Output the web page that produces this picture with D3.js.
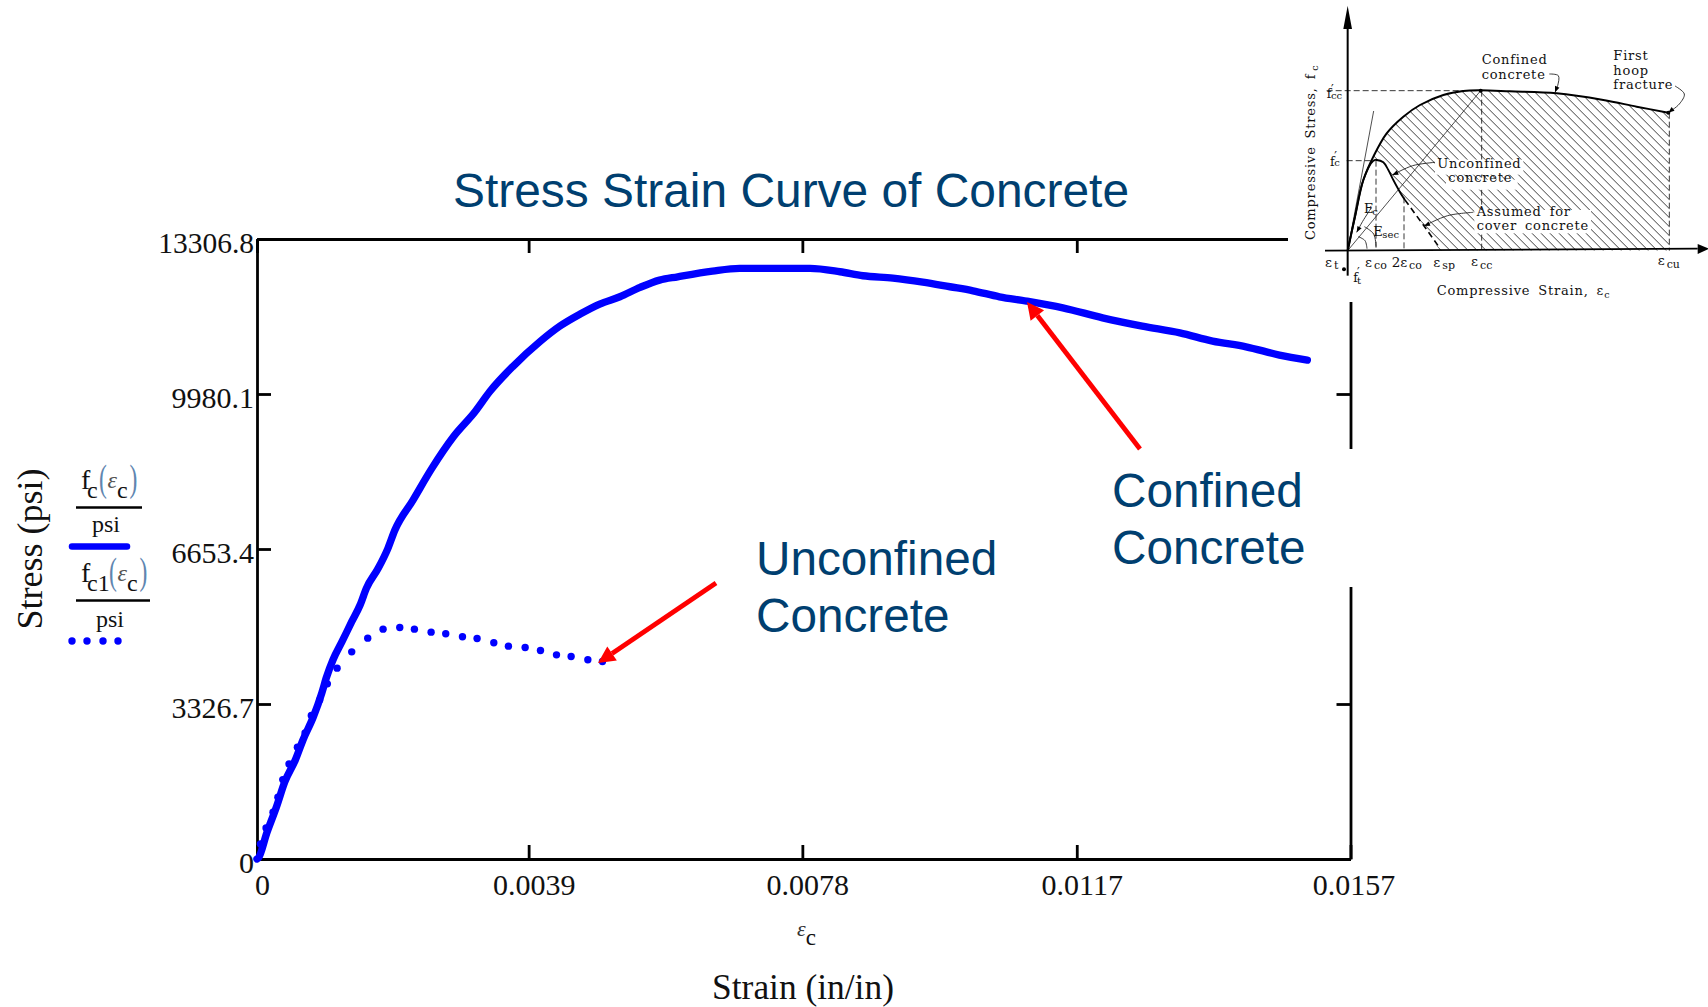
<!DOCTYPE html>
<html><head><meta charset="utf-8">
<script src="https://cdn.jsdelivr.net/npm/d3@7"></script>
<style>html,body{margin:0;padding:0;background:#fff}svg{display:block}text{white-space:pre}</style>
</head><body><svg id="c" width="1708" height="1007"></svg>
<script>
// ---- main chart data
const chartTitle = "Stress Strain Curve of Concrete";
const xTickValues = [0, 0.0039, 0.00783, 0.01177, 0.0157];
const xTickLabels = ["0", "0.0039", "0.0078", "0.0117", "0.0157"];
const yTickValues = [0, 3326.7, 6653.4, 9980.1, 13306.8];
const yTickLabels = ["0", "3326.7", "6653.4", "9980.1", "13306.8"];
const confinedStrain = [0,.00002,.00014,.00028,.0004,.00055,.00066,.00081,.00093,.001,.00109,.00122,.00136,.00148,.00157,.00174,.00188,.00198,.00224,.00251,.00282,.00313,.00334,.00368,.00406,.00435,.00464,.00492,.00521,.0055,.00578,.00604,.00654,.00693,.00794,.00837,.0087,.00913,.00956,.00995,.01028,.01066,.01105,.01157,.01214,.01271,.01325,.01372,.0142,.01468,.01508];
const confinedStress = [0,21,558,1122,1659,2125,2554,3054,3562,3912,4271,4663,5093,5451,5809,6238,6668,7060,7704,8384,9063,9599,10028,10580,11101,11438,11696,11910,12067,12269,12425,12496,12618,12676,12676,12604,12518,12468,12382,12282,12196,12067,11975,11831,11616,11438,11294,11116,10994,10816,10709];
const unconfinedStrain = [.00005,.00013,.00023,.0003,.00037,.00046,.00058,.00069,.00078,.0009,.00101,.00115,.00136,.00159,.00181,.00205,.00226,.0025,.00271,.00295,.00316,.0034,.00361,.00385,.00407,.0043,.00451,.00475,.00496];
const unconfinedStress = [322,666,1002,1325,1704,2041,2399,2706,3079,3415,3759,4096,4446,4740,4933,4969,4933,4869,4833,4769,4733,4640,4568,4539,4475,4382,4346,4275,4239];

// ---- inset data (the small textbook sketch), in its own units
const insetConfined = [[0,0],[22,102],[47,212],[77,282],[117,352],[167,402],[217,437],[287,467],[347,479],[397,481],[487,478],[627,472],[767,452],[867,432],[962,414]];
const insetUnconfined = [[0,0],[22,102],[47,212],[77,270],[87,272],[107,265],[122,242],[137,212],[162,167],[172,152]];
const insetCover = [[172,152],[227,77],[277,7]];
const insetHatchEdge = [[77,282],[87,272],[107,265],[122,242],[137,212],[162,167],[172,152],[227,77],[277,0],[965,0],[965,414]];
const insetDashes = [[[-63,480],[397,480]],[[-3,270],[82,270]],[[85,270],[85,0]],[[169,160],[169,0]],[[402,480],[402,0]],[[965,414],[965,0]]];
const insetThin = [[[0,0],[78,419]],[[0,0],[399,480]]];
const insetDots = [[399,480],[962,414],[-11,-56]];
const insetLabels = [
 ["Confined",402,559],["concrete",402,515],["First",797,572],["hoop",797,527],["fracture",797,484],
 ["Unconfined",269,249],["concrete",302,205],["Assumed for",387,105],["cover concrete",387,62]];
const insetTicks = [["ε",-68,-48,"t"],["ε",52,-48,"co"],["2ε",132,-48,"co"],["ε",257,-48,"sp"],["ε",370,-46,"cc"],["ε",930,-43,"cu"]];

const svg = d3.select("#c");
const navy = "#003f70", blue = "#0000ff", red = "#ff0000", ink = "#111";
const serif = "'Liberation Serif','Times New Roman',serif", sans = "'Liberation Sans',Arial,sans-serif";

const x = d3.scaleLinear().domain([0, 0.0157]).range([257, 1350.5]);
const y = d3.scaleLinear().domain([0, 13306.8]).range([859, 239]);

function styleAxis(g){
  g.selectAll("path.domain").attr("stroke","#000").attr("stroke-width",2.8);
  g.selectAll(".tick line").attr("stroke","#000").attr("stroke-width",2.8);
  g.selectAll(".tick text").attr("fill",ink).attr("font-family",serif).attr("font-size",30);
}
const xAxis = svg.append("g").attr("transform",`translate(0,${y(0)})`)
  .call(d3.axisBottom(x).tickValues(xTickValues).tickSize(-14).tickSizeOuter(0).tickPadding(0)
    .tickFormat((d,i)=>xTickLabels[i])).call(styleAxis);
xAxis.selectAll(".tick text").attr("dx",(d,i)=>i===4?3:5).attr("y",0).attr("dy",36);
const yAxis = svg.append("g").attr("transform",`translate(${x(0)},0)`)
  .call(d3.axisLeft(y).tickValues(yTickValues).tickSize(-14).tickSizeOuter(0).tickPadding(0)
    .tickFormat((d,i)=>yTickLabels[i])).call(styleAxis);
yAxis.selectAll(".tick text").attr("x",-3).attr("dy",13).attr("font-size",(d,i)=>i===4?29.5:30);
svg.append("g").attr("transform",`translate(0,${y(13306.8)})`)
  .call(d3.axisTop(x).tickValues(xTickValues).tickSize(-14).tickSizeOuter(0).tickFormat("")).call(styleAxis);
svg.append("g").attr("transform",`translate(${x(0.0157)},0)`)
  .call(d3.axisRight(y).tickValues(yTickValues).tickSize(-14).tickSizeOuter(0).tickFormat("")).call(styleAxis);

// white boxes of the overlays that cut the frame
svg.append("rect").attr("x",1288).attr("y",0).attr("width",420).attr("height",302).attr("fill","#fff");
svg.append("rect").attr("x",1300).attr("y",449).attr("width",100).attr("height",138).attr("fill","#fff");

// series
const line = d3.line().x(d=>x(d[0])).y(d=>y(d[1])).curve(d3.curveMonotoneX);
svg.append("path").datum(confinedStrain.map((s,i)=>[s,confinedStress[i]]))
  .attr("d",line).attr("fill","none").attr("stroke",blue).attr("stroke-width",7.4)
  .attr("stroke-linecap","round").attr("stroke-linejoin","round");
svg.append("g").selectAll("circle").data(unconfinedStrain.map((s,i)=>[s,unconfinedStress[i]]))
  .join("circle").attr("cx",d=>x(d[0])).attr("cy",d=>y(d[1])).attr("r",3.7).attr("fill",blue);

// titles
svg.append("text").attr("x",453).attr("y",207).attr("fill",navy).attr("font-family",sans).attr("font-size",47.9).text(chartTitle);
function lines(arr,xp,size){arr.forEach(([t,yp])=>svg.append("text").attr("x",xp).attr("y",yp).attr("fill",navy).attr("font-family",sans).attr("font-size",size).text(t));}
lines([["Confined",507],["Concrete",564]],1112,47.7);
lines([["Unconfined",575],["Concrete",632]],756,47.7);

// arrows
function redArrow(x1,y1,x2,y2){
  const a=Math.atan2(y2-y1,x2-x1),L=17,W=8.5;
  const bx=x2-L*Math.cos(a),by=y2-L*Math.sin(a);
  svg.append("line").attr("x1",x1).attr("y1",y1).attr("x2",bx).attr("y2",by).attr("stroke",red).attr("stroke-width",4.8);
  svg.append("path").attr("fill",red).attr("d",d3.line()([[x2,y2],[bx+W*Math.sin(a),by-W*Math.cos(a)],[bx-W*Math.sin(a),by+W*Math.cos(a)]])+"Z");
}
redArrow(1140,449,1027,302);
redArrow(716,583,598,663);

// axis captions
function serifText(t,xp,yp,size,anchor,fill){return svg.append("text").attr("x",xp).attr("y",yp).attr("font-family",serif).attr("font-size",size).attr("text-anchor",anchor||"start").attr("fill",fill||ink).text(t);}
serifText("Strain (in/in)",803,999,35.4,"middle");
svg.append("text").attr("transform","translate(42,549) rotate(-90)").attr("text-anchor","middle").attr("font-family",serif).attr("font-size",36).attr("fill",ink).text("Stress (psi)");
const epsLabel = svg.append("text").attr("x",797).attr("y",936).attr("font-family",serif).attr("fill",ink);
epsLabel.append("tspan").attr("font-size",22).attr("font-style","italic").attr("fill","#333").text("ε");
epsLabel.append("tspan").attr("font-size",23).attr("dy",9).text("c");

// legend
function paren(s,px,py){
  svg.append("text").attr("transform",`translate(${px},${py}) scale(.62,1)`).attr("font-family",serif).attr("font-size",38).attr("fill","#5f86b0").text(s);
}
function legendLabel(sub,yb,lineEnd,psiX,psiY){
  const w = sub.length>1?10:0;
  const base = svg.append("text").attr("x",81).attr("y",yb).attr("font-family",serif).attr("fill",ink);
  base.append("tspan").attr("font-size",28).text("f");
  base.append("tspan").attr("font-size",24).attr("dx",-3.3).attr("dy",9).text(sub);
  paren("(",99+w,yb+2);
  const arg = svg.append("text").attr("x",107.5+w).attr("y",yb-1).attr("font-family",serif).attr("fill",ink);
  arg.append("tspan").attr("font-size",24).attr("font-style","italic").attr("fill","#555").text("ε");
  arg.append("tspan").attr("font-size",24).attr("dy",10).text("c");
  paren(")",129.5+w,yb+2);
  svg.append("line").attr("x1",76).attr("x2",lineEnd).attr("y1",yb+18.5).attr("y2",yb+18.5).attr("stroke","#000").attr("stroke-width",2.4);
  serifText("psi",psiX,psiY,24,"middle");
}
legendLabel("c",489,142,106,532);
legendLabel("c1",582,150,110,627);
svg.append("line").attr("x1",72).attr("x2",127).attr("y1",546.5).attr("y2",546.5).attr("stroke",blue).attr("stroke-width",6.5).attr("stroke-linecap","round");
svg.append("g").selectAll("circle").data([72,87,103,118]).join("circle").attr("cx",d=>d).attr("cy",641).attr("r",3.7).attr("fill",blue);

// ---- inset sketch
const ix = d3.scaleLinear().domain([0,1000]).range([1270+233/3,1270+1233/3]);
const iy = d3.scaleLinear().domain([0,600]).range([752/3,152/3]);
const inset = svg.append("g");
const lineI = d3.line().x(p=>ix(p[0])).y(p=>iy(p[1]));
const curveI = d3.line().x(p=>ix(p[0])).y(p=>iy(p[1])).curve(d3.curveCatmullRom);
svg.append("defs").append("clipPath").attr("id","hatchClip").append("path")
  .attr("d",lineI(insetConfined.slice(3).concat(insetHatchEdge.slice().reverse()))+"Z");
const hatch = inset.append("g").attr("clip-path","url(#hatchClip)");
d3.range(-400,1500,27).forEach(s=>{
  hatch.append("line").attr("x1",ix(s)).attr("y1",iy(600)).attr("x2",ix(s+600)).attr("y2",iy(0)).attr("stroke","#2a2a2a").attr("stroke-width",.9);
});
insetDashes.forEach(d=>inset.append("path").attr("d",lineI(d)).attr("stroke","#222").attr("stroke-width",.9).attr("stroke-dasharray","6 3").attr("fill","none"));
insetThin.forEach(d=>inset.append("path").attr("d",lineI(d)).attr("stroke","#222").attr("stroke-width",.8).attr("fill","none"));
// label clearings
[[262,228,265,45],[295,183,215,30],[380,52,350,70]].forEach(b=>inset.append("rect").attr("x",ix(b[0])).attr("y",iy(b[1]+b[3])).attr("width",b[2]/3).attr("height",b[3]/3).attr("fill","#fff"));
inset.append("path").attr("d",curveI(insetConfined)).attr("fill","none").attr("stroke","#000").attr("stroke-width",2);
inset.append("path").attr("d",curveI(insetUnconfined)).attr("fill","none").attr("stroke","#000").attr("stroke-width",1.8);
inset.append("path").attr("d",lineI(insetCover)).attr("fill","none").attr("stroke","#000").attr("stroke-width",1.6).attr("stroke-dasharray","6 4");
// axes of the sketch
inset.append("line").attr("x1",ix(0)).attr("x2",ix(0)).attr("y1",iy(-75)).attr("y2",iy(670)).attr("stroke","#000").attr("stroke-width",2);
inset.append("path").attr("fill","#000").attr("d",lineI([[0,735],[-13,665],[13,665]])+"Z");
inset.append("line").attr("x1",ix(-68)).attr("x2",ix(1050)).attr("y1",iy(0)).attr("y2",iy(6)).attr("stroke","#000").attr("stroke-width",1.8);
inset.append("path").attr("fill","#000").attr("d",lineI([[1085,6],[1050,20],[1050,-10]])+"Z");
inset.selectAll("circle").data(insetDots).join("circle").attr("cx",d=>ix(d[0])).attr("cy",d=>iy(d[1])).attr("r",2).attr("fill","#000");
// arcs and leaders
function leader(pts){
  inset.append("path").attr("d",curveI(pts)).attr("fill","none").attr("stroke","#222").attr("stroke-width",.9);
}
function head(a,b){
  const t=Math.atan2(iy(b[1])-iy(a[1]),ix(b[0])-ix(a[0])),L=6,W=2.4,X=ix(b[0]),Y=iy(b[1]);
  inset.append("path").attr("fill","#000").attr("d",d3.line()([[X,Y],[X-L*Math.cos(t)+W*Math.sin(t),Y-L*Math.sin(t)-W*Math.cos(t)],[X-L*Math.cos(t)-W*Math.sin(t),Y-L*Math.sin(t)+W*Math.cos(t)]])+"Z");
}
const leaders = [
 [[605,530],[632,525],[630,495],[622,475]],
 [[982,494],[1010,470],[995,440],[962,414]],
 [[262,265],[195,255],[134,227]],
 [[377,115],[300,105],[229,74]],
 [[72,130],[45,88],[27,55]]];
leaders.forEach(p=>{leader(p);head(p[p.length-2],p[p.length-1]);});
leader([[58,6],[52,30],[32,42]]);
leader([[85,12],[78,50],[50,72]]);
// sketch text
const ifont = "'DejaVu Serif','Liberation Serif',serif";
function itext(t,px,py,size,sp){return inset.append("text").attr("x",ix(px)).attr("y",iy(py)).attr("font-family",ifont).attr("font-size",size||13).attr("letter-spacing",sp===undefined?.8:sp).attr("word-spacing",3).attr("fill","#111").text(t);}
insetLabels.forEach(d=>itext(d[0],d[1],d[2]));
insetTicks.forEach(d=>{
  itext(d[0],d[1],d[2],13.5,0);
  itext(d[3],d[1]+(d[0].length>1?52:27),d[2]-8,11,0);
});
itext("Compressive Strain, ε",267,-133,13);
itext("c",770,-141,9.5,0);
itext("f",-63,457,12.5,0);itext("cc",-50,455,10,0);itext("′",-50,471,12,0);
itext("f",-53,255,12.5,0);itext("c",-40,253,10,0);itext("′",-40,269,12,0);
itext("E",49,114,13,0);itext("c",74,106,10,0);
itext("E",77,45,13,0);itext("sec",104,37,10,0);
itext("f",17,-93,12.5,0);itext("t",28,-101,10,0);itext("′",28,-78,12,0);
inset.append("text").attr("transform",`translate(${ix(-98)},${iy(32)}) rotate(-90)`).attr("font-family",ifont).attr("font-size",13).attr("letter-spacing",.8).attr("word-spacing",3).attr("fill","#111").text("Compressive Stress, f");
inset.append("text").attr("transform",`translate(${ix(-90)},${iy(540)}) rotate(-90)`).attr("font-family",ifont).attr("font-size",9.5).attr("fill","#111").text("c");
</script></body></html>
